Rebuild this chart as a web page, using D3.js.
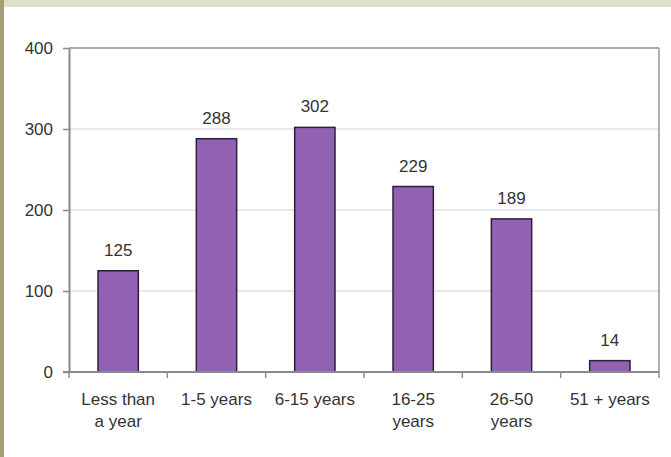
<!DOCTYPE html>
<html><head><meta charset="utf-8">
<script src="https://cdn.jsdelivr.net/npm/d3@7"></script>
<style>
html,body{margin:0;padding:0;background:#fff;}
svg{display:block;}
text{font-family:"Liberation Sans",Arial,sans-serif;fill:#333;}
</style></head><body>
<svg id="c" width="671" height="457"></svg>
<script>
const categories = [["Less than","a year"],["1-5 years"],["6-15 years"],["16-25","years"],["26-50","years"],["51 + years"]];
const values = [125, 288, 302, 229, 189, 14];
const yTicks = [0, 100, 200, 300, 400];

const svg = d3.select("#c");
const W = 671, H = 457;
const FS = 17;
svg.append("rect").attr("x",0).attr("y",0).attr("width",W).attr("height",H).attr("fill","#fff");
svg.append("rect").attr("x",0).attr("y",0).attr("width",W).attr("height",7).attr("fill","#dde0c9");
svg.append("rect").attr("x",0).attr("y",0).attr("width",4).attr("height",H).attr("fill","#a3a173");

const m = {l:69, r:659, t:48, b:372};
const x = d3.scaleBand().domain(d3.range(categories.length)).range([m.l, m.r]).paddingInner(0.59).paddingOuter(0.295);
const xb = d3.scaleBand().domain(d3.range(categories.length)).range([m.l, m.r]);
const y = d3.scaleLinear().domain([0,400]).range([m.b, m.t]);

// gridlines
svg.append("g").selectAll("line").data(yTicks.filter(d=>d>0 && d<400)).join("line")
  .attr("x1",m.l).attr("x2",m.r).attr("y1",d=>y(d)).attr("y2",d=>y(d))
  .attr("stroke","#e2e2e2").attr("stroke-width",1.5);
// top & right frame
svg.append("line").attr("x1",m.l).attr("x2",m.r).attr("y1",y(400)).attr("y2",y(400)).attr("stroke","#a8a8a8").attr("stroke-width",2);
svg.append("line").attr("x1",m.r).attr("x2",m.r).attr("y1",y(400)).attr("y2",m.b).attr("stroke","#b0b0b0").attr("stroke-width",2);

// bars
svg.append("g").selectAll("rect").data(values).join("rect")
  .attr("x",(d,i)=>x(i)).attr("width",x.bandwidth())
  .attr("y",d=>y(d)).attr("height",d=>m.b-y(d))
  .attr("fill","#9262b2").attr("stroke","#2b1f3c").attr("stroke-width",1.5);

// value labels
svg.append("g").selectAll("text").data(values).join("text")
  .attr("x",(d,i)=>x(i)+x.bandwidth()/2).attr("y",d=>y(d)-15)
  .attr("text-anchor","middle").attr("font-size",FS).text(d=>d);

// y axis
const ya = svg.append("g").attr("transform",`translate(${m.l},0)`)
  .call(d3.axisLeft(y).tickValues(yTicks).tickSize(6).tickPadding(10).tickSizeOuter(0));
ya.select(".domain").attr("stroke","#8a8a8a").attr("stroke-width",2);
ya.selectAll(".tick line").attr("stroke","#8a8a8a").attr("stroke-width",1.5);
ya.selectAll(".tick text").attr("font-size",FS).attr("fill","#333").attr("font-family","Liberation Sans, Arial, sans-serif");

// x axis
const xa = svg.append("g").attr("transform",`translate(0,${m.b})`);
xa.append("line").attr("x1",m.l-6).attr("x2",m.r).attr("y1",0).attr("y2",0).attr("stroke","#8a8a8a").attr("stroke-width",2);
xa.selectAll(".xt").data(d3.range(categories.length+1)).join("line").attr("class","xt")
  .attr("x1",i=>i<categories.length?xb(i):m.r).attr("x2",i=>i<categories.length?xb(i):m.r)
  .attr("y1",0).attr("y2",6).attr("stroke","#8a8a8a").attr("stroke-width",1.5);
const lab = xa.selectAll(".xl").data(categories).join("text").attr("class","xl")
  .attr("text-anchor","middle").attr("font-size",FS)
  .attr("transform",(d,i)=>`translate(${xb(i)+xb.bandwidth()/2},33)`);
lab.selectAll("tspan").data(d=>d).join("tspan").attr("x",0).attr("dy",(d,j)=>j===0?0:22).text(d=>d);
</script>
</body></html>
